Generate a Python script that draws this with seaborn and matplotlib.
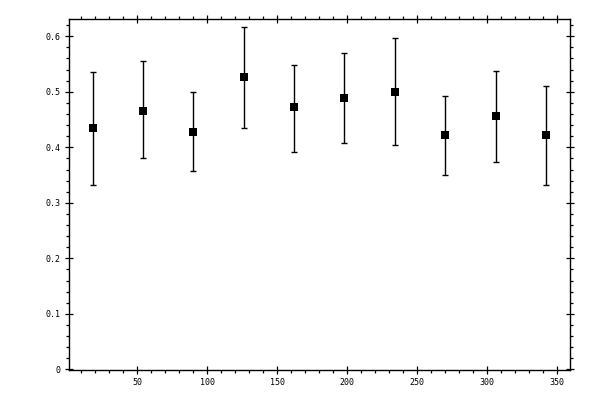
import numpy as np
import pandas as pd
import matplotlib
matplotlib.use("Agg")
import matplotlib.pyplot as plt
import seaborn as sns
from matplotlib.ticker import MultipleLocator

# data
angle = [18, 54, 90, 126, 162, 198, 234, 270, 306, 342]
value = [0.434, 0.466, 0.428, 0.526, 0.472, 0.488, 0.500, 0.423, 0.457, 0.423]
upper = [0.535, 0.555, 0.500, 0.616, 0.549, 0.569, 0.596, 0.493, 0.538, 0.511]
lower = [0.333, 0.380, 0.358, 0.435, 0.392, 0.407, 0.405, 0.351, 0.374, 0.333]

df = pd.DataFrame({'angle': angle, 'value': value, 'upper': upper, 'lower': lower})

sns.set_style("ticks")
plt.rcParams['font.family'] = ['DejaVu Sans Mono']

fig = plt.figure(figsize=(6, 4), dpi=100)
ax = fig.add_axes([0.115, 0.075, 0.835, 0.8775])

yerr = np.array([df['value'] - df['lower'], df['upper'] - df['value']])
ax.errorbar(df['angle'], df['value'], yerr=yerr, fmt='none', ecolor='black',
            elinewidth=1, capsize=2.2, capthick=1, zorder=2)
sns.scatterplot(data=df, x='angle', y='value', marker='s', s=30, color='black',
                edgecolor='black', linewidth=0, ax=ax, zorder=3)

ax.set_xlim(1.2, 359.2)
ax.set_ylim(-0.001, 0.631)
ax.xaxis.set_major_locator(MultipleLocator(50))
ax.xaxis.set_minor_locator(MultipleLocator(10))
ax.yaxis.set_major_locator(MultipleLocator(0.1))
ax.yaxis.set_minor_locator(MultipleLocator(0.02))
ax.yaxis.set_major_formatter(lambda v, p: '0' if abs(v) < 1e-9 else f'{v:.1f}')

ax.tick_params(which='major', direction='inout', length=6, width=0.9, colors='black',
               top=True, right=True, labelsize=6, pad=3)
ax.tick_params(which='minor', direction='out', length=2.5, width=0.9, colors='black',
               top=True, right=True)
for s in ax.spines.values():
    s.set_linewidth(1.0)
    s.set_color('black')

ax.set_xlabel('')
ax.set_ylabel('')

fig.savefig('out.png', dpi=100)
